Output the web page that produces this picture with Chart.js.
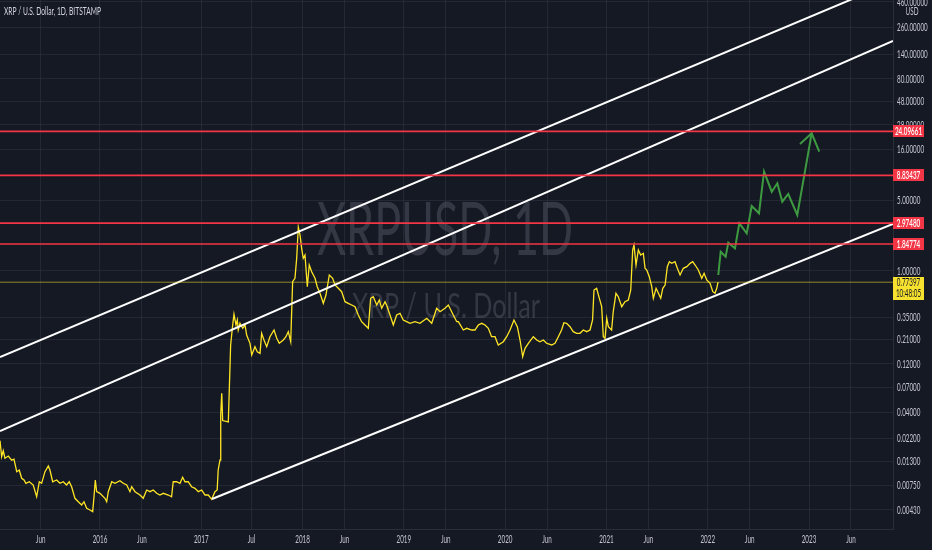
<!DOCTYPE html>
<html>
<head>
<meta charset="utf-8">
<script src="https://cdn.jsdelivr.net/npm/chart.js@4.4.1/dist/chart.umd.min.js"></script>
<style>
  html, body { margin: 0; padding: 0; background: #151924; }
  #wrap { width: 932px; height: 550px; }
</style>
</head>
<body>
<div id="wrap"><canvas id="xrp" width="932" height="550"></canvas></div>
<script>
// ---- data (x in decimal years, y in USD) ----
const priceYears = [
  2015.013, 2015.029, 2015.045, 2015.062, 2015.095, 2015.128, 2015.151, 2015.178, 2015.203, 2015.227,
  2015.250, 2015.269, 2015.302, 2015.341, 2015.375, 2015.401, 2015.424, 2015.457, 2015.490, 2015.506,
  2015.533, 2015.572, 2015.605, 2015.638, 2015.670, 2015.696, 2015.720, 2015.753, 2015.786, 2015.819,
  2015.842, 2015.869, 2015.901, 2015.928, 2015.941, 2015.954, 2015.967, 2016.000, 2016.049, 2016.066,
  2016.082, 2016.116, 2016.148, 2016.197, 2016.230, 2016.264, 2016.296, 2016.313, 2016.346, 2016.395,
  2016.427, 2016.461, 2016.494, 2016.526, 2016.560, 2016.592, 2016.625, 2016.674, 2016.707, 2016.723,
  2016.756, 2016.790, 2016.816, 2016.839, 2016.871, 2016.904, 2016.938, 2016.971, 2017.004, 2017.037,
  2017.069, 2017.103, 2017.135, 2017.157, 2017.167, 2017.185, 2017.192, 2017.202, 2017.211, 2017.267,
  2017.290, 2017.310, 2017.323, 2017.343, 2017.356, 2017.365, 2017.382, 2017.409, 2017.432, 2017.448,
  2017.481, 2017.498, 2017.530, 2017.553, 2017.580, 2017.596, 2017.619, 2017.646, 2017.678, 2017.718,
  2017.745, 2017.770, 2017.810, 2017.836, 2017.859, 2017.883, 2017.902, 2017.925, 2017.942, 2017.958,
  2017.975, 2017.991, 2018.007, 2018.024, 2018.047, 2018.066, 2018.090, 2018.123, 2018.145, 2018.172,
  2018.205, 2018.231, 2018.264, 2018.297, 2018.320, 2018.353, 2018.386, 2018.419, 2018.451, 2018.485,
  2018.518, 2018.550, 2018.583, 2018.616, 2018.649, 2018.672, 2018.698, 2018.732, 2018.758, 2018.781,
  2018.814, 2018.836, 2018.863, 2018.896, 2018.929, 2018.962, 2018.994, 2019.028, 2019.061, 2019.110,
  2019.159, 2019.226, 2019.275, 2019.324, 2019.357, 2019.406, 2019.439, 2019.488, 2019.522, 2019.538,
  2019.587, 2019.620, 2019.670, 2019.702, 2019.735, 2019.768, 2019.801, 2019.834, 2019.866, 2019.900,
  2019.932, 2019.982, 2020.015, 2020.048, 2020.087, 2020.120, 2020.147, 2020.173, 2020.196, 2020.229,
  2020.278, 2020.312, 2020.344, 2020.377, 2020.409, 2020.459, 2020.492, 2020.525, 2020.557, 2020.580,
  2020.607, 2020.640, 2020.672, 2020.706, 2020.739, 2020.772, 2020.804, 2020.838, 2020.863, 2020.877,
  2020.903, 2020.930, 2020.953, 2020.969, 2020.986, 2021.003, 2021.019, 2021.051, 2021.067, 2021.094,
  2021.117, 2021.151, 2021.183, 2021.216, 2021.240, 2021.259, 2021.272, 2021.292, 2021.315, 2021.338,
  2021.364, 2021.381, 2021.398, 2021.423, 2021.447, 2021.463, 2021.490, 2021.513, 2021.536, 2021.556,
  2021.579, 2021.601, 2021.621, 2021.645, 2021.677, 2021.700, 2021.727, 2021.759, 2021.793, 2021.826,
  2021.852, 2021.875, 2021.907, 2021.941, 2021.964, 2021.990, 2022.023, 2022.050, 2022.072, 2022.089,
  2022.102
];
const priceValues = [
  0.0209, 0.0145, 0.0166, 0.0140, 0.0147, 0.0134, 0.0137, 0.0103, 0.0107, 0.00886,
  0.00852, 0.00790, 0.00819, 0.00760, 0.00582, 0.00819, 0.00790, 0.0103, 0.01172, 0.0107,
  0.00819, 0.00852, 0.00790, 0.00819, 0.00760, 0.00819, 0.00731, 0.00561, 0.00519, 0.00482,
  0.00519, 0.00447, 0.00430, 0.00414, 0.00582, 0.00852, 0.00653, 0.00629, 0.00561, 0.00519,
  0.00653, 0.00819, 0.00790, 0.00839, 0.00790, 0.00760, 0.00653, 0.00731, 0.00653, 0.00605,
  0.00561, 0.00678, 0.00653, 0.00678, 0.00629, 0.00605, 0.00629, 0.00605, 0.00582, 0.00819,
  0.00819, 0.00790, 0.00906, 0.00819, 0.00819, 0.00731, 0.00705, 0.00653, 0.00678, 0.00605,
  0.00605, 0.00548, 0.00653, 0.00678, 0.0107, 0.01344, 0.0375, 0.0615, 0.0330, 0.0320,
  0.185, 0.2916, 0.3722, 0.2916, 0.3269, 0.2602, 0.3032, 0.2705, 0.2916, 0.2322,
  0.1922, 0.1472, 0.1779, 0.1587, 0.1530, 0.2414, 0.2072, 0.1779, 0.2234, 0.2602,
  0.2154, 0.1922, 0.2072, 0.2234, 0.2504, 0.1993, 0.7826, 0.8458, 1.334, 2.72,
  2.270, 1.676, 1.334, 1.439, 0.6985, 1.145, 0.983, 0.8458, 0.6985, 0.6009,
  0.4783, 0.5780, 0.912, 0.8458, 0.7258, 0.6735, 0.6231, 0.4962, 0.4783, 0.4601,
  0.4427, 0.3664, 0.3145, 0.2916, 0.2705, 0.5361, 0.5560, 0.4601, 0.5158, 0.4268,
  0.4962, 0.4427, 0.3664, 0.2916, 0.3664, 0.3808, 0.3269, 0.3145, 0.3032, 0.3145,
  0.3032, 0.3398, 0.3032, 0.4268, 0.3949, 0.4268, 0.4601, 0.3664, 0.3145, 0.3145,
  0.2602, 0.2705, 0.2602, 0.2602, 0.2916, 0.3032, 0.2916, 0.2705, 0.2234, 0.2234,
  0.185, 0.1993, 0.2234, 0.2602, 0.3269, 0.2806, 0.2072, 0.1416, 0.1715, 0.1922,
  0.2234, 0.2072, 0.1993, 0.2072, 0.1922, 0.185, 0.1922, 0.2234, 0.2602, 0.3074,
  0.3032, 0.2806, 0.2504, 0.2414, 0.2414, 0.2602, 0.2504, 0.2602, 0.3269, 0.6478,
  0.6735, 0.5361, 0.4427, 0.2234, 0.2154, 0.3398, 0.2806, 0.2602, 0.3949, 0.6009,
  0.5560, 0.4427, 0.4962, 0.5158, 0.6478, 1.612, 1.807, 1.145, 1.612, 1.439,
  1.496, 1.062, 1.022, 0.877, 0.6985, 0.5361, 0.6735, 0.6009, 0.5361, 0.6735,
  0.7258, 1.102, 1.235, 1.190, 1.235, 1.062, 0.912, 1.062, 1.102, 1.190,
  1.235, 1.145, 1.022, 0.8458, 0.948, 0.8136, 0.7546, 0.6231, 0.6009, 0.6735,
  0.774
];

// drawn projection (green zigzag) and its arrow head
const projectionYears  = [2022.104, 2022.128, 2022.177, 2022.203, 2022.269, 2022.312, 2022.385, 2022.434,
                          2022.506, 2022.556, 2022.632, 2022.687, 2022.736, 2022.795, 2022.884, 2023.026];
const projectionValues = [0.912, 1.551, 1.384, 1.905, 1.676, 2.963, 2.359, 4.395,
                          3.722, 9.607, 6.089, 7.374, 4.850, 5.778, 3.580, 23.05];
const arrowHeadYears  = [2022.911, 2023.026, 2023.101];
const arrowHeadValues = [18.06, 23.05, 15.16];

// channel lines (two anchor points each)
const upperChannelYears  = [2015.013, 2023.602];
const upperChannelValues = [0.1406, 583];
const middleChannelYears  = [2015.013, 2023.829];
const middleChannelValues = [0.02603, 189];
const lowerChannelYears  = [2017.106, 2023.829];
const lowerChannelValues = [0.005527, 2.916];

// horizontal levels
const levelValues = [24.09661, 8.83437, 2.97480, 1.84774];
const lastPrice = 0.77397;
const lastPriceTimer = '10:48:05';

// axes
const X_MIN = 2015.013, X_MAX = 2023.829;
const Y_MIN = 0.002788, Y_MAX = 481.4;
const xTickYears  = [2015.414, 2016, 2016.414, 2017, 2017.496, 2018, 2018.414, 2019, 2019.414,
                     2020, 2020.414, 2021, 2021.414, 2022, 2022.414, 2023, 2023.414];
const xTickLabels = ['Jun', '2016', 'Jun', '2017', 'Jul', '2018', 'Jun', '2019', 'Jun',
                     '2020', 'Jun', '2021', 'Jun', '2022', 'Jun', '2023', 'Jun'];
const yTickValues = [0.0043, 0.0075, 0.013, 0.022, 0.04, 0.07, 0.12, 0.21, 0.35, 1, 5,
                     16, 28, 48, 80, 140, 260, 460];

const TITLE = 'XRP / U.S. Dollar, 1D, BITSTAMP';
const WM_BIG = 'XRPUSD, 1D';
const WM_SMALL = 'XRP / U.S. Dollar';

// ---- helpers ----
const pts = (xs, ys) => xs.map((x, i) => ({ x: x, y: ys[i] }));
const SANS = 'Lato, "Open Sans", "DejaVu Sans", sans-serif';
const AXIS_TXT = '#c3c6ce';
const GRID = 'rgba(60,64,78,0.38)';
const SQUEEZE = 0.6;   // the reference screenshot is horizontally condensed
const LBL = 10.5;

function squeezeText(ctx, text, x, y, size, sx, color, align, weight) {
  ctx.save();
  ctx.font = (weight || 'normal') + ' ' + size + 'px ' + SANS;
  ctx.fillStyle = color;
  ctx.textAlign = align || 'left';
  ctx.textBaseline = 'middle';
  ctx.translate(x, y);
  ctx.scale(sx, 1);
  ctx.fillText(text, 0, 0);
  ctx.restore();
}

// text squeezed to a given overall width
function fitText(ctx, text, x, y, size, width, color, align, base) {
  ctx.save();
  ctx.font = size + 'px ' + SANS;
  const sx = width / ctx.measureText(text).width;
  ctx.fillStyle = color;
  ctx.textAlign = align || 'left';
  ctx.textBaseline = base || 'middle';
  ctx.translate(x, y);
  ctx.scale(sx, 1);
  ctx.fillText(text, 0, 0);
  ctx.restore();
}

const watermark = {
  id: 'watermark',
  beforeDatasetsDraw(chart) {
    const ctx = chart.ctx;
    fitText(ctx, WM_BIG, 445, 255, 74, 256, 'rgba(125,129,142,0.30)', 'center', 'alphabetic');
    fitText(ctx, WM_SMALL, 446, 318, 35, 188, 'rgba(125,129,142,0.30)', 'center', 'alphabetic');
  }
};

const overlay = {
  id: 'overlay',
  afterDraw(chart) {
    const ctx = chart.ctx;
    const xs = chart.scales.x, ys = chart.scales.y;
    const left = ys.left;
    // axis labels at the scales' own tick positions
    ys.ticks.forEach(t => {
      squeezeText(ctx, Number(t.value).toFixed(5), left + 4, ys.getPixelForValue(t.value) + 0.5, LBL, SQUEEZE, AXIS_TXT, 'left');
    });
    xs.ticks.forEach((t, i) => {
      squeezeText(ctx, xTickLabels[i], xs.getPixelForValue(t.value), xs.top + 10.5, LBL, SQUEEZE, AXIS_TXT, 'center');
    });
    // title and currency
    fitText(ctx, TITLE, 4, 11, 11.5, 97, '#d1d4dc', 'left', 'middle');
    squeezeText(ctx, 'USD', left + 19, 12, LBL, SQUEEZE, AXIS_TXT, 'center');
    // level boxes
    levelValues.forEach(v => {
      const py = Math.round(ys.getPixelForValue(v));
      ctx.fillStyle = '#f23645';
      ctx.fillRect(left, py - 6, 31, 12);
      squeezeText(ctx, v.toFixed(5), left + 15.5, py + 0.5, LBL, SQUEEZE, '#ffffff', 'center', '600');
    });
    // last price box
    const py = Math.round(ys.getPixelForValue(lastPrice));
    ctx.fillStyle = '#f7e12f';
    ctx.fillRect(left, py - 5, 31, 23);
    squeezeText(ctx, lastPrice.toFixed(5), left + 15.5, py + 1, LBL, SQUEEZE, '#131722', 'center');
    squeezeText(ctx, lastPriceTimer, left + 15.5, py + 12, LBL, SQUEEZE, '#131722', 'center');
  }
};

const lineDs = (data, color, width, extra) => Object.assign({
  data: data, borderColor: color, borderWidth: width, pointRadius: 0,
  fill: false, tension: 0
}, extra || {});

const datasets = [];
levelValues.forEach(v => datasets.push(lineDs(pts([X_MIN, X_MAX], [v, v]), '#f23645', 1.6)));
datasets.push(lineDs(pts([X_MIN, X_MAX], [lastPrice, lastPrice]), 'rgba(247,225,47,0.55)', 1));
datasets.push(lineDs(pts(upperChannelYears, upperChannelValues), '#ffffff', 2));
datasets.push(lineDs(pts(middleChannelYears, middleChannelValues), '#ffffff', 2));
datasets.push(lineDs(pts(lowerChannelYears, lowerChannelValues), '#ffffff', 2));
datasets.push(lineDs(pts(priceYears, priceValues), '#ffe625', 1.3));
datasets.push(lineDs(pts(projectionYears, projectionValues), '#3d9a40', 2, { borderJoinStyle: 'miter' }));
datasets.push(lineDs(pts(arrowHeadYears, arrowHeadValues), '#3d9a40', 2));

new Chart(document.getElementById('xrp').getContext('2d'), {
  type: 'line',
  data: { datasets: datasets },
  options: {
    responsive: false,
    animation: false,
    layout: { padding: 0 },
    plugins: { legend: { display: false }, tooltip: { enabled: false } },
    scales: {
      x: {
        type: 'linear',
        position: 'bottom',
        min: X_MIN,
        max: X_MAX,
        afterBuildTicks: s => { s.ticks = xTickYears.map(v => ({ value: v })); },
        afterFit: s => { s.height = 21; s.paddingLeft = 0; s.paddingRight = 0; },
        ticks: { display: false, autoSkip: false, maxRotation: 0 },
        grid: { color: GRID, drawTicks: false },
        border: { color: '#2a2e39' }
      },
      y: {
        type: 'logarithmic',
        position: 'right',
        min: Y_MIN,
        max: Y_MAX,
        afterBuildTicks: s => { s.ticks = yTickValues.map(v => ({ value: v })); },
        afterFit: s => { s.width = 39; s.paddingTop = 0; s.paddingBottom = 0; },
        ticks: { display: false },
        grid: { color: GRID, drawTicks: false },
        border: { color: '#2a2e39' }
      }
    }
  },
  plugins: [watermark, overlay]
});
</script>
</body>
</html>
